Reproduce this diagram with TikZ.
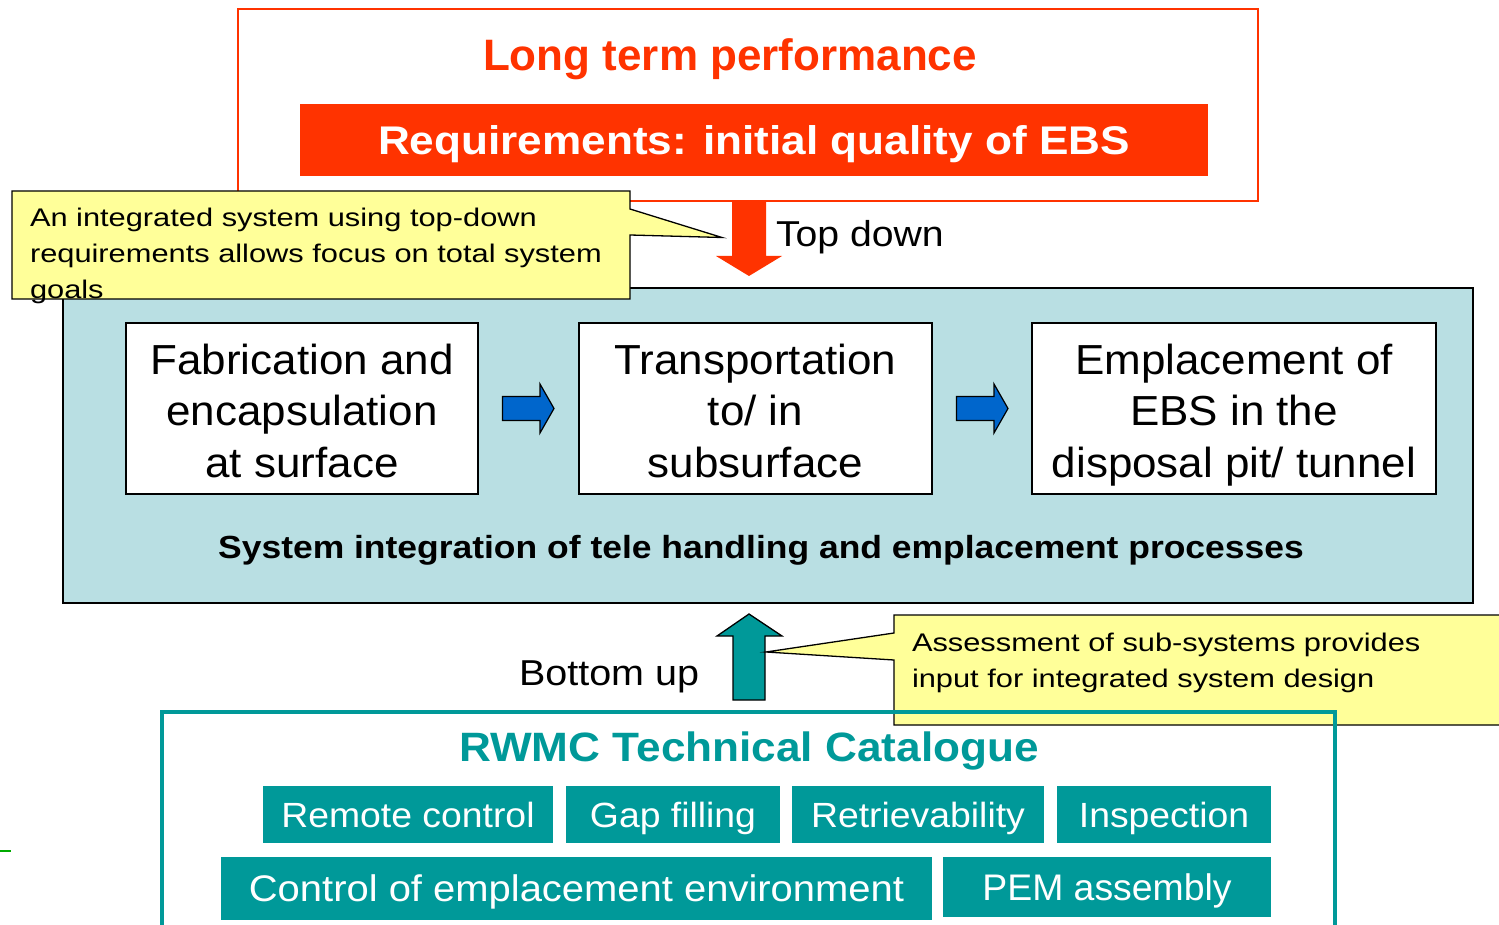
\documentclass[tikz,border=0pt]{standalone}
\usepackage{fontspec}
\setmainfont{Liberation Sans}
\usetikzlibrary{calc}
\definecolor{perfred}{HTML}{FF3300}
\definecolor{catteal}{HTML}{009999}
\definecolor{panelblue}{HTML}{B9DFE3}
\definecolor{noteyellow}{HTML}{FFFF99}
\definecolor{flowblue}{HTML}{0066CC}
\definecolor{markgreen}{HTML}{00AA00}
% size, baseline skip, horizontal stretch of the glyphs
\newcommand\fsz[3]{\fontsize{#1}{#2}\selectfont\addfontfeatures{FakeStretch=#3}}
% several lines, first baseline is the box baseline
\newcommand\txtlines[2]{\begin{tabular}[t]{@{}#1@{}}#2\end{tabular}}
\tikzset{
  pics/flowarr/.style={code={
    \draw[flowarrow] (0,-12) -- (37.5,-12) -- (37.5,-24.5) -- (51.5,0)
      -- (37.5,24.5) -- (37.5,12) -- (0,12) -- cycle;}}
}
\begin{document}
\begin{tikzpicture}[x=1pt,y=-1pt,
  every node/.style={inner sep=0pt,outer sep=0pt},
  frame/.style={draw=perfred,line width=1.4pt},
  reqbar/.style={fill=perfred,text=white,text height=28.6pt,text depth=0pt},
  panel/.style={draw=black,fill=panelblue,line width=2pt},
  procbox/.style={draw=black,fill=white,line width=1.8pt,text height=30pt,text depth=99pt,font=\fsz{42}{51.5}{1.047}},
  flowarrow/.style={draw=black,fill=flowblue,line width=1.2pt,line join=miter},
  uparrow/.style={draw=black,fill=catteal,line width=1.3pt,line join=miter},
  downarrow/.style={fill=perfred},
  note/.style={draw=black,fill=noteyellow,line width=1.3pt,line join=miter},
  notetext/.style={anchor=base west,font=\fsz{25.5}{36}{1.208}},
  catframe/.style={draw=catteal,line width=3.5pt},
  catitem/.style={fill=catteal,text=white,text height=25pt,text depth=0pt,font=\fsz{35}{42}{1.067}},
  ]
\useasboundingbox (0,0) rectangle (1499,925);

% requirements from long term performance
\node[frame,minimum width=1020pt,minimum height=192pt] (perf) at (748,105) {};
\node[anchor=base,text=perfred,font=\bfseries\fsz{44}{52}{1}] (perftitle) at (730,71) {Long term performance};
\node[reqbar,minimum width=908pt,minimum height=72pt,font=\bfseries\fsz{40}{46}{1.103}] (req) at (754,140) {Requirements: initial quality of EBS};

% top down arrow
\coordinate (tdA) at (749,201);
\fill[downarrow] (tdA) ++(-17,0) -- ++(34,0) -- ++(0,55) -- ++(16,0) -- (749,276) -- (716,256) -- (732,256) -- cycle;
\node[anchor=base west,font=\fsz{36}{43}{1.089}] (td) at (776,247) {Top down};

% process chain
\node[panel,minimum width=1410pt,minimum height=315pt] (panel) at (768,445.5) {};
\node[procbox,minimum width=352pt,minimum height=171pt] (fab) at (302,408.5) {\txtlines{c}{Fabrication and\\encapsulation\\at surface}};
\node[procbox,minimum width=353pt,minimum height=171pt] (trans) at (755.5,408.5) {\txtlines{c}{Transportation\\to/ in\\subsurface}};
\node[procbox,minimum width=404pt,minimum height=171pt] (empl) at (1234,408.5) {\txtlines{c}{Emplacement of\\EBS in the\\disposal pit/ tunnel}};
\pic at ($(fab.east)+(24.5,0)$) {flowarr};
\pic at ($(trans.east)+(24.5,0)$) {flowarr};
\node[anchor=base,font=\bfseries\fsz{32}{38}{1.108}] (sysint) at (761,558) {System integration of tele handling and emplacement processes};

% top-down note
\draw[note] (12,191) -- (630,191) -- (630,209) -- (722,237.5) -- (630,235) -- (630,299) -- (12,299) -- cycle;
\node[notetext] (note1) at (30,227) {\txtlines{l}{An integrated system using top-down\\requirements allows focus on total system\\goals}};

% bottom up arrow
\draw[uparrow] (749,614) -- (782,636) -- (765,636) -- (765,700) -- (733,700) -- (733,636) -- (717,636) -- cycle;
\node[anchor=base west,font=\fsz{36}{43}{1.097}] (bu) at (519,685) {Bottom up};

% bottom-up note
\draw[note] (894,615) -- (1510,615) -- (1510,725) -- (894,725) -- (894,660) -- (766,652) -- (894,633) -- cycle;
\node[notetext] (note2) at (912,651) {\txtlines{l}{Assessment of sub-systems provides\\input for integrated system design}};

% technical catalogue
\node[catframe,anchor=north west,minimum width=1173pt,minimum height=240pt] (cat) at (162,712) {};
\node[anchor=base,text=catteal,font=\bfseries\fsz{41}{48}{1.077}] (cattitle) at (749,761) {RWMC Technical Catalogue};
\node[catitem,minimum width=290pt,minimum height=57pt] (remote) at (408,814.5) {Remote control};
\node[catitem,minimum width=214pt,minimum height=57pt] (gap) at (673,814.5) {Gap filling};
\node[catitem,minimum width=252pt,minimum height=57pt] (retr) at (918,814.5) {Retrievability};
\node[catitem,minimum width=214pt,minimum height=57pt] (insp) at (1164,814.5) {Inspection};
\node[catitem,minimum width=711pt,minimum height=63pt,text height=26.5pt,font=\fsz{37}{45}{1.08}] (ctrl) at (576.5,888.5) {Control of emplacement environment};
\node[catitem,minimum width=328pt,minimum height=60pt,text height=26.5pt,font=\fsz{37}{45}{1.01}] (pem) at (1107,887) {PEM assembly};

% small margin mark
\draw[markgreen,line width=2.5pt] (0,851) -- (11,851);
\end{tikzpicture}
\end{document}
